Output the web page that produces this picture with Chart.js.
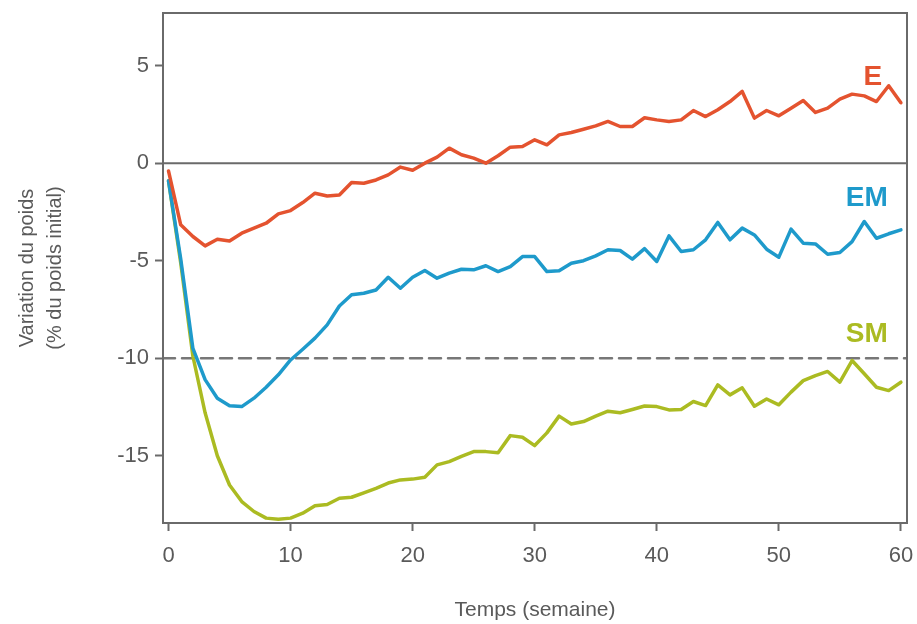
<!DOCTYPE html>
<html lang="fr">
<head>
<meta charset="UTF-8">
<title>Variation du poids</title>
<script src="https://cdn.jsdelivr.net/npm/chart.js@4.4.0/dist/chart.umd.min.js"></script>
<style>
  html, body { margin: 0; padding: 0; background: #fff; }
  #wrap { width: 917px; height: 624px; }
</style>
</head>
<body>
<div id="wrap"><canvas id="myChart" width="917" height="624"></canvas></div>
<script>
// semaines
var weeks = [0,1,2,3,4,5,6,7,8,9,10,11,12,13,14,15,16,17,18,19,20,
  21,22,23,24,25,26,27,28,29,30,31,32,33,34,35,36,37,38,39,40,
  41,42,43,44,45,46,47,48,49,50,51,52,53,54,55,56,57,58,59,60];

// variation du poids (%)
var serieE = [-0.4,-3.16,-3.76,-4.24,-3.9,-3.99,-3.59,-3.33,-3.08,-2.6,
  -2.43,-2.02,-1.54,-1.68,-1.63,-0.99,-1.03,-0.86,-0.6,-0.2,
  -0.36,0.0,0.31,0.77,0.43,0.26,0.0,0.38,0.82,0.85,
  1.2,0.94,1.45,1.57,1.74,1.91,2.14,1.88,1.88,2.33,
  2.22,2.14,2.22,2.7,2.39,2.74,3.16,3.68,2.31,2.7,
  2.43,2.82,3.21,2.6,2.82,3.28,3.54,3.45,3.16,3.97,3.1];

var serieEM = [-0.9,-4.9,-9.5,-11.1,-12.05,-12.44,-12.48,-12.05,-11.49,-10.85,
  -10.09,-9.54,-8.97,-8.29,-7.32,-6.75,-6.67,-6.5,-5.85,-6.41,
  -5.85,-5.5,-5.9,-5.64,-5.44,-5.47,-5.26,-5.56,-5.3,-4.79,
  -4.79,-5.56,-5.52,-5.13,-5.0,-4.75,-4.44,-4.48,-4.92,-4.38,
  -5.04,-3.73,-4.53,-4.44,-3.93,-3.04,-3.93,-3.33,-3.68,-4.41,
  -4.82,-3.38,-4.1,-4.14,-4.67,-4.58,-4.02,-2.99,-3.85,-3.62,-3.42];

var serieSM = [-0.9,-5.1,-9.9,-12.8,-15.0,-16.5,-17.35,-17.86,-18.2,-18.26,
  -18.2,-17.95,-17.57,-17.5,-17.18,-17.13,-16.9,-16.67,-16.4,-16.24,
  -16.2,-16.1,-15.47,-15.3,-15.03,-14.79,-14.79,-14.85,-13.97,-14.05,
  -14.48,-13.83,-12.97,-13.37,-13.25,-12.97,-12.72,-12.8,-12.63,-12.45,
  -12.48,-12.65,-12.63,-12.22,-12.43,-11.37,-11.88,-11.52,-12.46,-12.09,
  -12.39,-11.74,-11.15,-10.89,-10.68,-11.23,-10.12,-10.8,-11.49,-11.66,-11.23];

var xTicks = [0,10,20,30,40,50,60];
var yTicks = [5,0,-5,-10,-15];
var xMin = -0.45, xMax = 60.5;
var yMin = -18.45, yMax = 7.7;

var gris = '#5a5a5a';
var police = "'Liberation Sans', Arial, sans-serif";

function points(vals) {
  return weeks.map(function(w, i){ return {x: w, y: vals[i]}; });
}

// étiquettes des courbes (E, EM, SM) placées en coordonnées des axes
var etiquettes = [
  {txt: 'E',  x: 57.7, y: 4.4, color: '#e4532f'},
  {txt: 'EM', x: 57.2, y: -1.8, color: '#1e9acb'},
  {txt: 'SM', x: 57.2, y: -8.75, color: '#abbb22'}
];

var cadre = {
  id: 'cadre',
  afterDatasetsDraw: function(chart) {
    var a = chart.chartArea, c = chart.ctx;
    c.save();
    c.strokeStyle = '#6a6a6a';
    c.lineWidth = 2;
    c.strokeRect(a.left, a.top, a.right - a.left, a.bottom - a.top);
    c.font = 'bold 28px ' + police;
    c.textAlign = 'center';
    c.textBaseline = 'middle';
    etiquettes.forEach(function(e){
      c.fillStyle = e.color;
      c.fillText(e.txt, chart.scales.x.getPixelForValue(e.x), chart.scales.y.getPixelForValue(e.y));
    });
    c.restore();
  }
};

Chart.defaults.font.family = police;
Chart.defaults.color = gris;

var ctx = document.getElementById('myChart').getContext('2d');
var myChart = new Chart(ctx, {
  type: 'line',
  data: {
    datasets: [
      {label: 'E', data: points(serieE), borderColor: '#e4532f', borderWidth: 3.5},
      {label: 'EM', data: points(serieEM), borderColor: '#1e9acb', borderWidth: 3.5},
      {label: 'SM', data: points(serieSM), borderColor: '#abbb22', borderWidth: 3.5},
      {label: 'zero', data: [{x: xMin, y: 0}, {x: xMax, y: 0}], borderColor: '#6a6a6a', borderWidth: 2, order: 1},
      {label: 'seuil', data: [{x: xMin, y: -10}, {x: xMax, y: -10}], borderColor: '#777', borderWidth: 2.5, borderDash: [12, 7], order: 1}
    ]
  },
  options: {
    responsive: false,
    animation: false,
    layout: {padding: {top: 13, right: 10, left: 0, bottom: 0}},
    elements: {point: {radius: 0}, line: {tension: 0, borderCapStyle: 'round', borderJoinStyle: 'round'}},
    plugins: {legend: {display: false}, tooltip: {enabled: false}},
    scales: {
      x: {
        type: 'linear',
        min: xMin, max: xMax,
        afterBuildTicks: function(s){ s.ticks = xTicks.map(function(v){ return {value: v}; }); },
        afterFit: function(s){ s.height = 101; s.paddingLeft = 0; s.paddingRight = 0; },
        border: {display: false},
        grid: {drawOnChartArea: false, drawTicks: true, tickLength: 8, tickColor: '#6a6a6a', tickWidth: 2},
        ticks: {font: {size: 22}, color: gris, padding: 12, maxRotation: 0, autoSkip: false},
        title: {display: true, text: 'Temps (semaine)', font: {size: 21, lineHeight: 1.2}, color: gris, padding: {top: 0, bottom: 1}}
      },
      y: {
        min: yMin, max: yMax,
        afterBuildTicks: function(s){ s.ticks = yTicks.map(function(v){ return {value: v}; }); },
        afterFit: function(s){ s.width = 163; s.paddingTop = 0; s.paddingBottom = 0; },
        border: {display: false},
        grid: {drawOnChartArea: false, drawTicks: true, tickLength: 8, tickColor: '#6a6a6a', tickWidth: 2},
        ticks: {font: {size: 22}, color: gris, padding: 6},
        title: {display: true, text: ['Variation du poids', '(% du poids initial)'], font: {size: 20, lineHeight: 1.4}, color: gris, padding: {top: 13, bottom: 0}}
      }
    }
  },
  plugins: [cadre]
});
</script>
</body>
</html>
